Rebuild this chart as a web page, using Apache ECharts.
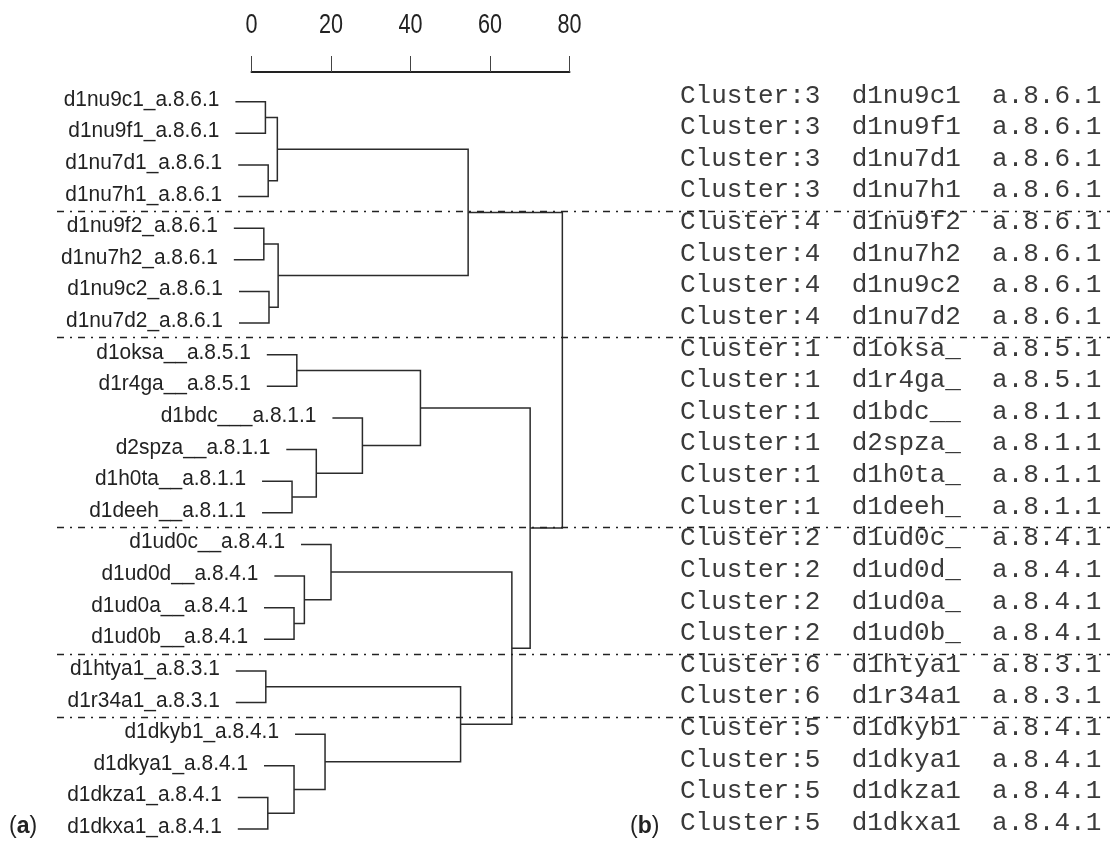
<!DOCTYPE html>
<html><head><meta charset="utf-8">
<script src="https://cdn.jsdelivr.net/npm/echarts@6/dist/echarts.min.js"></script>
<style>html,body{margin:0;padding:0;background:#fff}#c{width:1110px;height:841px}</style>
</head><body><div id="c"></div>
<script>
// ---- data ----
const leafIds = ['d1nu9c1','d1nu9f1','d1nu7d1','d1nu7h1','d1nu9f2','d1nu7h2','d1nu9c2','d1nu7d2',
  'd1oksa_','d1r4ga_','d1bdc__','d2spza_','d1h0ta_','d1deeh_',
  'd1ud0c_','d1ud0d_','d1ud0a_','d1ud0b_','d1htya1','d1r34a1',
  'd1dkyb1','d1dkya1','d1dkza1','d1dkxa1'];
const leafClasses = ['a.8.6.1','a.8.6.1','a.8.6.1','a.8.6.1','a.8.6.1','a.8.6.1','a.8.6.1','a.8.6.1',
  'a.8.5.1','a.8.5.1','a.8.1.1','a.8.1.1','a.8.1.1','a.8.1.1',
  'a.8.4.1','a.8.4.1','a.8.4.1','a.8.4.1','a.8.3.1','a.8.3.1',
  'a.8.4.1','a.8.4.1','a.8.4.1','a.8.4.1'];
const clusterNums = [3,3,3,3,4,4,4,4,1,1,1,1,1,1,2,2,2,2,6,6,5,5,5,5];
// merges: node ids 0..23 are leaves, merge k creates node 24+k
const mergeLeft   = [0, 2, 24, 4, 6, 27, 26, 8, 12, 11, 10, 31, 16, 15, 14, 18, 22, 21, 20, 39, 38, 35, 30];
const mergeRight  = [1, 3, 25, 5, 7, 28, 29, 9, 13, 32, 33, 34, 17, 36, 37, 19, 23, 40, 41, 42, 43, 44, 45];
const mergeHeight = [3.5,4.2,6.5,3.1,4.4,6.7,54.5,11.4,10.2,16.3,27.9,42.5,10.7,13.3,20.0,3.6,4.1,10.7,18.5,52.6,65.5,70.1,78.2];
const scaleTicks = [0, 20, 40, 60, 80];

// ---- derived tree structure ----
const nLeaf = leafIds.length;
const nodeY = [], parentH = [];
for (let i = 0; i < nLeaf; i++) nodeY.push(i);
mergeLeft.forEach((a, k) => {
  const b = mergeRight[k];
  nodeY.push((nodeY[a] + nodeY[b]) / 2);
  parentH[a] = mergeHeight[k];
  parentH[b] = mergeHeight[k];
});
const boundaries = [];
for (let i = 1; i < nLeaf; i++) if (clusterNums[i] !== clusterNums[i - 1]) boundaries.push(i - 0.5);

const STUB = 30, GAP = 16;
const LINE = '#2b2b2b';
const sMin = scaleTicks[0], sMax = scaleTicks[scaleTicks.length - 1], sStep = scaleTicks[1] - scaleTicks[0];

const chart = echarts.init(document.getElementById('c'), null, {renderer: 'canvas'});

function childX(api, node) {
  if (node < nLeaf) return api.coord([parentH[node], 0])[0] - STUB;
  return api.coord([mergeHeight[node - nLeaf], 0])[0];
}

chart.setOption({
  animation: false,
  backgroundColor: '#fff',
  grid: [
    {left: 251.5, right: 540.5, top: 72, height: 1, containLabel: false},
    {left: 251.5, right: 540.5, top: 101.7, bottom: 12, containLabel: false}
  ],
  xAxis: [
    {
      gridIndex: 0, type: 'value', min: sMin, max: sMax, interval: sStep, position: 'top',
      axisLine: {show: true, onZero: false, lineStyle: {color: '#222', width: 2}},
      axisTick: {show: true, length: 16, lineStyle: {color: '#444', width: 1}},
      axisLabel: {show: false},
      splitLine: {show: false}
    },
    {gridIndex: 1, type: 'value', min: sMin, max: sMax, show: false}
  ],
  yAxis: [
    {gridIndex: 0, type: 'value', min: 0, max: 1, show: false},
    {gridIndex: 1, type: 'value', min: 0, max: nLeaf - 1, inverse: true, show: false}
  ],
  series: [
    {
      type: 'custom', xAxisIndex: 0, yAxisIndex: 0, clip: false, silent: true,
      data: scaleTicks.map(v => [v, 1]),
      renderItem: function (params, api) {
        const v = scaleTicks[params.dataIndex];
        const p = api.coord([v, 1]);
        return {
          type: 'text', x: p[0], y: p[1] - 46, scaleX: 0.8,
          style: {
            text: String(v), x: 0, y: 0, align: 'center', verticalAlign: 'middle',
            font: "27px 'Liberation Sans', Arial, sans-serif", fill: '#222'
          }
        };
      }
    },
    {
      type: 'custom', xAxisIndex: 1, yAxisIndex: 1, clip: false, silent: true,
      data: mergeHeight.map((h, k) => [h, nodeY[nLeaf + k]]),
      renderItem: function (params, api) {
        const k = params.dataIndex;
        const a = mergeLeft[k], b = mergeRight[k];
        const hx = api.coord([mergeHeight[k], 0])[0];
        const ya = api.coord([0, nodeY[a]])[1];
        const yb = api.coord([0, nodeY[b]])[1];
        return {
          type: 'polyline',
          shape: {points: [[childX(api, a), ya], [hx, ya], [hx, yb], [childX(api, b), yb]]},
          style: {stroke: LINE, lineWidth: 1.5, fill: null}
        };
      }
    },
    {
      type: 'custom', xAxisIndex: 1, yAxisIndex: 1, clip: false, silent: true,
      data: leafIds.map((id, i) => [parentH[i], i]),
      renderItem: function (params, api) {
        const i = params.dataIndex;
        const p = api.coord([parentH[i], i]);
        return {
          type: 'group',
          children: [
            {
              type: 'text', x: p[0] - STUB - GAP, y: p[1] - 2, scaleX: 0.95,
              style: {
                text: leafIds[i] + '_' + leafClasses[i],
                x: 0, y: 0,
                align: 'right', verticalAlign: 'middle',
                font: "22px 'Liberation Sans', Arial, sans-serif", fill: '#222'
              }
            },
            {
              type: 'text',
              style: {
                text: 'Cluster:' + clusterNums[i] + '  ' + leafIds[i] + '  ' + leafClasses[i],
                x: 680, y: p[1] - 6,
                align: 'left', verticalAlign: 'middle',
                font: "26px 'Liberation Mono', 'DejaVu Sans Mono', monospace", fill: '#3a3a3a'
              }
            }
          ]
        };
      }
    },
    {
      type: 'custom', xAxisIndex: 1, yAxisIndex: 1, clip: false, silent: true,
      data: boundaries.map(v => [0, v]),
      renderItem: function (params, api) {
        const y = Math.round(api.coord([0, boundaries[params.dataIndex]])[1] - 1.5) + 0.5;
        return {
          type: 'line',
          shape: {x1: 57, y1: y, x2: 1110, y2: y},
          style: {stroke: '#222', lineWidth: 1.5, lineDash: [7, 6, 2, 6]}
        };
      }
    }
  ],
  graphic: [
    {type: 'text', left: 9, top: 815, style: {
      text: '({a|a})', font: "23px 'Liberation Sans', Arial, sans-serif", fill: '#222',
      rich: {a: {fontWeight: 'bold', fontSize: 23, fontFamily: "'Liberation Sans', Arial, sans-serif", fill: '#222'}}
    }},
    {type: 'text', left: 630, top: 815, style: {
      text: '({b|b})', font: "23px 'Liberation Sans', Arial, sans-serif", fill: '#222',
      rich: {b: {fontWeight: 'bold', fontSize: 23, fontFamily: "'Liberation Sans', Arial, sans-serif", fill: '#222'}}
    }}
  ]
});
</script>
</body></html>
